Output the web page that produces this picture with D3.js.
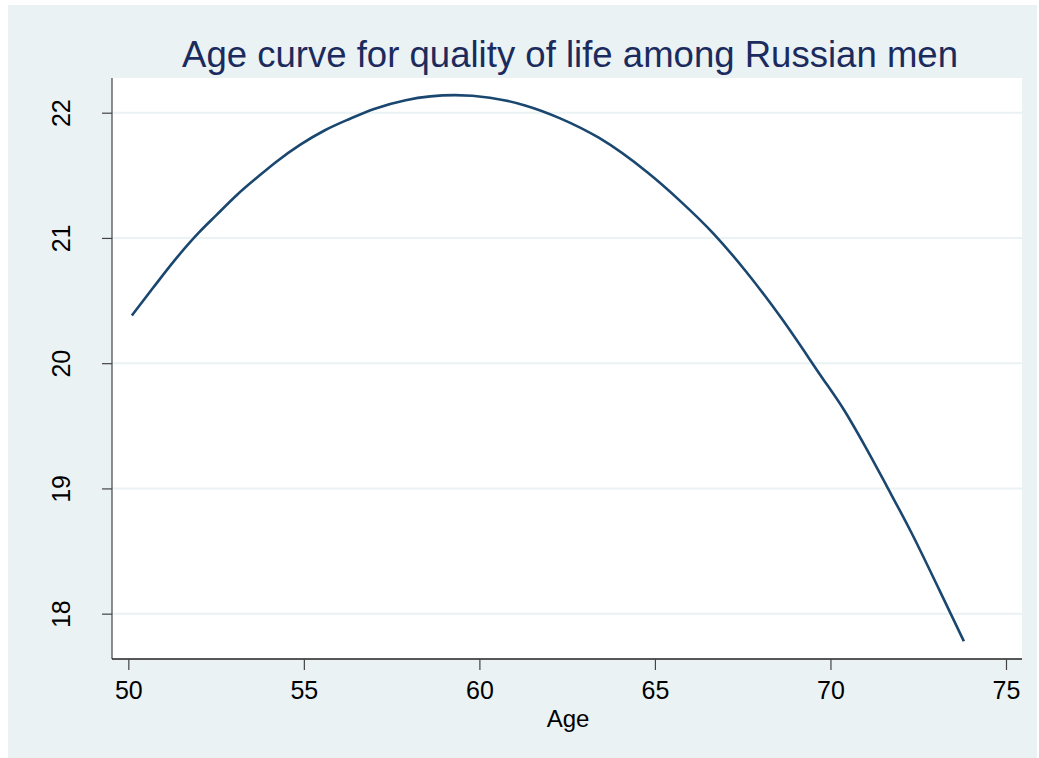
<!DOCTYPE html>
<html>
<head>
<meta charset="utf-8">
<script src="https://cdn.jsdelivr.net/npm/d3@7"></script>
<style>
  html, body { margin: 0; padding: 0; background: #ffffff; }
  svg { display: block; font-family: "Liberation Sans", Arial, sans-serif; }
</style>
</head>
<body>
<svg id="chart" width="1039" height="758"></svg>
<script>
// Predicted quality-of-life score by age
const ages = [50.1, 50.7, 51.3, 52.0, 52.5, 53.1, 53.7, 54.2, 54.9, 55.6, 56.3, 57.0, 57.9, 58.6, 59.3,
              60.3, 61.3, 62.3, 63.4, 64.8, 65.7, 66.7, 67.6, 68.6, 69.7, 70.4, 71.0, 71.6, 72.3, 73.1, 73.8];
const scores = [20.38, 20.60, 20.815, 21.04, 21.18, 21.345, 21.49, 21.605, 21.745, 21.86, 21.95, 22.03, 22.10, 22.13, 22.14,
                22.12, 22.058, 21.955, 21.80, 21.52, 21.30, 21.025, 20.73, 20.36, 19.91, 19.62, 19.33, 19.02, 18.65, 18.19, 17.78];
const xTicks = [50, 55, 60, 65, 70, 75];
const yTicks = [18, 19, 20, 21, 22];
const titleText = "Age curve for quality of life among Russian men";
const xTitle = "Age";

const svg = d3.select("#chart");
const W = 1039, H = 758;
const plot = { left: 112, right: 1022, top: 78, bottom: 659 };

// outer graph region
svg.append("rect")
  .attr("x", 8).attr("y", 5).attr("width", W - 10).attr("height", H - 5)
  .attr("fill", "#eaf2f3");

// plot region
svg.append("rect")
  .attr("x", plot.left).attr("y", plot.top)
  .attr("width", plot.right - plot.left).attr("height", plot.bottom - plot.top)
  .attr("fill", "#ffffff");

const x = d3.scaleLinear().domain([49.535, 75.456]).range([plot.left, plot.right]);
const y = d3.scaleLinear().domain([17.638, 22.277]).range([plot.bottom, plot.top]);

// horizontal gridlines
svg.append("g")
  .selectAll("line")
  .data(yTicks)
  .join("line")
  .attr("x1", plot.left).attr("x2", plot.right)
  .attr("y1", d => y(d)).attr("y2", d => y(d))
  .attr("stroke", "#eaf2f3").attr("stroke-width", 2);

// y axis
const yAxis = svg.append("g")
  .attr("transform", `translate(${plot.left},0)`)
  .call(d3.axisLeft(y).tickValues(yTicks).tickSize(10).tickPadding(0).tickFormat(d3.format("d")));
yAxis.select(".domain").attr("d", `M0,${plot.top}V${plot.bottom}`).attr("stroke", "#444").attr("stroke-width", 1.2);
yAxis.selectAll(".tick line").attr("stroke", "#444").attr("stroke-width", 1.2);
yAxis.selectAll(".tick text")
  .attr("font-size", 25).attr("fill", "#000")
  .attr("text-anchor", "middle")
  .attr("transform", "rotate(-90)")
  .attr("x", 0).attr("y", -42).attr("dy", "0");

// x axis
const xAxis = svg.append("g")
  .attr("transform", `translate(0,${plot.bottom})`)
  .call(d3.axisBottom(x).tickValues(xTicks).tickSize(11).tickPadding(0).tickFormat(d3.format("d")));
xAxis.select(".domain").attr("d", `M${plot.left},0H${plot.right}`).attr("stroke", "#222").attr("stroke-width", 1.5);
xAxis.selectAll(".tick line").attr("stroke", "#444").attr("stroke-width", 1.2);
xAxis.selectAll(".tick text")
  .attr("font-size", 25).attr("fill", "#000")
  .attr("y", 40).attr("dy", "0");

// x axis title
svg.append("text")
  .attr("x", (plot.left + plot.right) / 2 + 1).attr("y", 727)
  .attr("text-anchor", "middle").attr("font-size", 24).attr("fill", "#000")
  .text(xTitle);

// chart title
svg.append("text")
  .attr("x", 570).attr("y", 67)
  .attr("text-anchor", "middle").attr("font-size", 37).attr("fill", "#1c2b5e")
  .attr("textLength", 776).attr("lengthAdjust", "spacingAndGlyphs")
  .text(titleText);

// fitted curve
const pts = ages.map((a, i) => [a, scores[i]]);
svg.append("path")
  .datum(pts)
  .attr("fill", "none")
  .attr("stroke", "#1a476f")
  .attr("stroke-width", 2.6)
  .attr("stroke-linejoin", "round")
  .attr("d", d3.line().curve(d3.curveMonotoneX).x(d => x(d[0])).y(d => y(d[1])));
</script>
</body>
</html>
